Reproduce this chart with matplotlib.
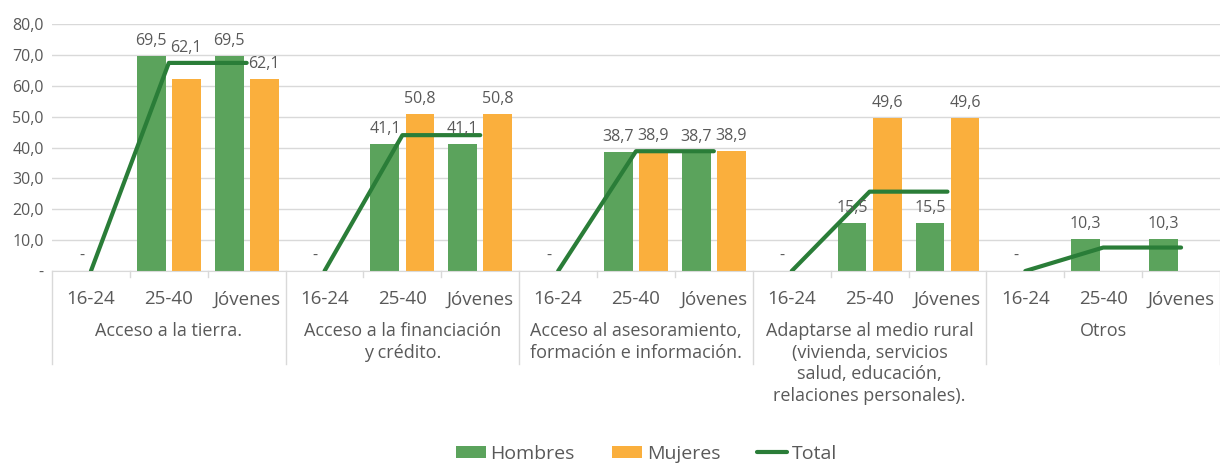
import numpy as np
import matplotlib
matplotlib.use("Agg")
import matplotlib.pyplot as plt
from matplotlib.transforms import blended_transform_factory

plt.rcParams['font.family'] = ['Open Sans', 'DejaVu Sans']

# datos
grupos = ["Acceso a la tierra.",
          "Acceso a la financiación\ny crédito.",
          "Acceso al asesoramiento,\nformación e información.",
          "Adaptarse al medio rural\n(vivienda, servicios\nsalud, educación,\nrelaciones personales).",
          "Otros"]
edades = ["16-24", "25-40", "Jóvenes"]
hombres = [0, 69.5, 69.5, 0, 41.1, 41.1, 0, 38.7, 38.7, 0, 15.5, 15.5, 0, 10.3, 10.3]
mujeres = [np.nan, 62.1, 62.1, np.nan, 50.8, 50.8, np.nan, 38.9, 38.9,
           np.nan, 49.6, 49.6, np.nan, np.nan, np.nan]
total = [0, 67.4, 67.4, 0, 44.0, 44.0, 0, 38.8, 38.8, 0, 25.7, 25.7, 0, 7.6, 7.6]

verde = "#5BA35C"
naranja = "#FAAF3D"
verde_osc = "#2A7D38"
gris = "#595959"
gris_linea = "#D9D9D9"

fig = plt.figure(figsize=(12.2, 4.65), dpi=100)
ax = fig.add_axes([52/1220, 194/465, 1168/1220, 247/465])

n = len(hombres)
x = np.arange(n)
w = 0.37
off = 0.225

h = np.array(hombres, dtype=float)
m = np.array(mujeres, dtype=float)
b1 = ax.bar(x - off, h, w, color=verde, label="Hombres", zorder=2)
b2 = ax.bar(x + off, m, w, color=naranja, label="Mujeres", zorder=2)

# linea total por grupo
ng = len(grupos)
ne = len(edades)
for g in range(ng):
    sl = slice(g*ne, (g+1)*ne)
    ln, = ax.plot(x[sl], total[sl], color=verde_osc, lw=3.0, solid_capstyle='round',
                  zorder=3, label="Total")

# etiquetas de datos
def fmt(v):
    if v == 0:
        return "-"
    return ("%.1f" % v).replace(".", ",")

for xi, v in zip(x, h):
    if not np.isnan(v):
        xx = xi - off if v > 0 else xi - 0.12
        ax.annotate(fmt(v), (xx, v), xytext=(0, 5), textcoords="offset points",
                    ha="center", va="bottom", fontsize=11.5, color=gris)
for xi, v in zip(x, m):
    if not np.isnan(v):
        y = v
        # si la linea del total pasa por encima de la etiqueta, subirla
        if xi % ne == 1 and v < total[xi] < v + 7:
            y = total[xi]
        ax.annotate(fmt(v), (xi + off, y), xytext=(0, 5), textcoords="offset points",
                    ha="center", va="bottom", fontsize=11.5, color=gris)

ax.set_ylim(0, 80)
ax.set_xlim(-0.5, n - 0.5)
ax.set_yticks(np.arange(0, 81, 10))
ax.set_yticklabels(["-"] + [("%.1f" % v).replace(".", ",") for v in np.arange(10, 81, 10)])
ax.tick_params(axis="y", length=0, labelsize=11.5, labelcolor=gris, pad=6)
ax.yaxis.grid(True, color=gris_linea, lw=1)
ax.set_axisbelow(True)
for s in ["top", "right", "left"]:
    ax.spines[s].set_visible(False)
ax.spines["bottom"].set_color(gris_linea)

ax.set_xticks(x)
ax.set_xticklabels(edades * ng)
ax.tick_params(axis="x", length=0, labelsize=13.5, labelcolor=gris, pad=14)

# eje de categorias multinivel
tr = blended_transform_factory(ax.transData, ax.transAxes)
for g in range(ng + 1):
    xb = g*ne - 0.5
    ax.plot([xb, xb], [0, -0.375], transform=tr, color=gris_linea, lw=1, clip_on=False)
for g in range(ng):
    for k in range(1, ne):
        xb = g*ne + k - 0.5
        ax.plot([xb, xb], [0, -0.025], transform=tr, color=gris_linea, lw=1, clip_on=False)
    ax.text(g*ne + 1, -0.208, grupos[g], transform=tr, ha="center", va="top",
            fontsize=13, color=gris, linespacing=1.25)

fig.legend(handles=[b1, b2, ln], labels=["Hombres", "Mujeres", "Total"],
           loc="center", bbox_to_anchor=(0.53, 0.024), ncol=3, frameon=False,
           fontsize=14, labelcolor=gris, handlelength=1.55, handleheight=0.55,
           handletextpad=0.25, columnspacing=1.9, borderpad=0.1)

fig.savefig("out.png", dpi=100)
